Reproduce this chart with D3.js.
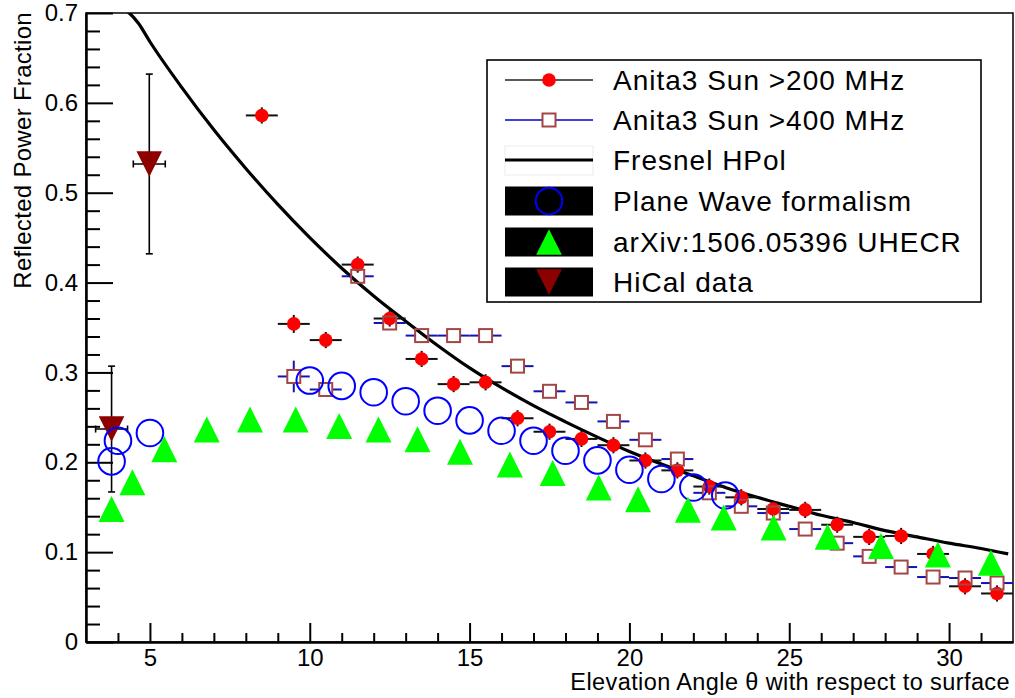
<!DOCTYPE html>
<html><head><meta charset="utf-8">
<script src="https://cdn.jsdelivr.net/npm/d3@7/dist/d3.min.js"></script>
<style>
body{margin:0;background:#fff}
text{font-family:"Liberation Sans",Arial,Helvetica,sans-serif}
</style>
</head><body>
<svg id="chart" width="1015" height="698"></svg>
<script>
// ---------- data ----------
const anita200X = [8.5, 9.5, 10.5, 11.5, 12.5, 13.5, 14.5, 15.5, 16.5, 17.5, 18.5, 19.5, 20.5, 21.5, 22.5, 23.5, 24.5, 25.5, 26.5, 27.5, 28.5, 29.5, 30.5, 31.5];
const anita200Y = [0.586, 0.354, 0.336, 0.420, 0.360, 0.315, 0.287, 0.289, 0.249, 0.234, 0.226, 0.219, 0.202, 0.191, 0.173, 0.161, 0.148, 0.147, 0.1305, 0.117, 0.118, 0.098, 0.062, 0.054];
const anita200XErr = [0.5, 0.5, 0.5, 0.5, 0.5, 0.5, 0.5, 0.5, 0.5, 0.5, 0.5, 0.5, 0.5, 0.5, 0.5, 0.5, 0.5, 0.5, 0.5, 0.5, 0.5, 0.5, 0.5, 0.5];
const anita200YErr = [0.009, 0.010, 0.009, 0.009, 0.009, 0.009, 0.009, 0.009, 0.009, 0.009, 0.009, 0.009, 0.009, 0.009, 0.009, 0.009, 0.009, 0.009, 0.009, 0.009, 0.009, 0.009, 0.009, 0.009];

const anita400X = [9.5, 10.5, 11.5, 12.5, 13.5, 14.5, 15.5, 16.5, 17.5, 18.5, 19.5, 20.5, 21.5, 22.5, 23.5, 24.5, 25.5, 26.5, 27.5, 28.5, 29.5, 30.5, 31.5];
const anita400Y = [0.2955, 0.281, 0.407, 0.355, 0.341, 0.341, 0.341, 0.307, 0.279, 0.2666, 0.2455, 0.225, 0.2036, 0.166, 0.151, 0.1435, 0.1257, 0.110, 0.0953, 0.0834, 0.0723, 0.0712, 0.0656];
const anita400XErr = [0.5, 0.5, 0.5, 0.5, 0.5, 0.5, 0.5, 0.5, 0.5, 0.5, 0.5, 0.5, 0.5, 0.5, 0.5, 0.5, 0.5, 0.5, 0.5, 0.5, 0.5, 0.5, 0.5];
const anita400YErr = [0.0176, 0.006, 0.006, 0.006, 0.006, 0.006, 0.006, 0.006, 0.006, 0.006, 0.006, 0.006, 0.006, 0.006, 0.006, 0.006, 0.006, 0.006, 0.006, 0.006, 0.006, 0.006, 0.006];

const fresnelX = [3.9, 4.64, 5, 6, 7, 8, 9, 10, 11, 12, 13, 14, 15, 16, 17, 18, 19, 20, 21, 22, 23, 24, 25, 26, 27, 28, 29, 30, 31, 31.85];
const fresnelY = [0.7115, 0.6886, 0.668, 0.617, 0.570, 0.527, 0.487, 0.450, 0.416, 0.385, 0.357, 0.330, 0.305, 0.283, 0.263, 0.245, 0.228, 0.212, 0.198, 0.185, 0.172, 0.161, 0.151, 0.141, 0.133, 0.124, 0.117, 0.110, 0.104, 0.098];

const planeWaveX = [3.8, 4.0, 5.0, 10, 11, 12, 13, 14, 15, 16, 17, 18, 19, 20, 21, 22, 23];
const planeWaveY = [0.201, 0.224, 0.2326, 0.291, 0.285, 0.278, 0.268, 0.2574, 0.2466, 0.2351, 0.224, 0.2129, 0.2021, 0.1917, 0.1814, 0.172, 0.1631];

const uhecrX = [3.8, 4.45, 5.45, 6.78, 8.13, 9.56, 10.92, 12.15, 13.37, 14.7, 16.26, 17.6, 19.04, 20.27, 21.83, 22.95, 24.51, 26.2, 27.87, 29.65, 31.31];
const uhecrY = [0.148, 0.1778, 0.2145, 0.2366, 0.2477, 0.2477, 0.2403, 0.2366, 0.2255, 0.2118, 0.1976, 0.188, 0.1719, 0.1589, 0.1472, 0.1385, 0.1274, 0.1172, 0.1068, 0.0975, 0.0882];

const hicalX = [3.8, 4.98];
const hicalY = [0.237, 0.532];
const hicalXErr = [0.5, 0.5];
const hicalYErr = [0.070, 0.100];

const xTicksMajor = [5, 10, 15, 20, 25, 30];
const xTicksMinor = [4, 6, 7, 8, 9, 11, 12, 13, 14, 16, 17, 18, 19, 21, 22, 23, 24, 26, 27, 28, 29, 31];
const yTicksMajor = [0, 0.1, 0.2, 0.3, 0.4, 0.5, 0.6, 0.7];
const yTickLabels = ["0", "0.1", "0.2", "0.3", "0.4", "0.5", "0.6", "0.7"];
const yTicksMinor = [0.02, 0.04, 0.06, 0.08, 0.12, 0.14, 0.16, 0.18, 0.22, 0.24, 0.26, 0.28, 0.32, 0.34, 0.36, 0.38, 0.42, 0.44, 0.46, 0.48, 0.52, 0.54, 0.56, 0.58, 0.62, 0.64, 0.66, 0.68];

const legendLabels = ["Anita3 Sun >200 MHz", "Anita3 Sun >400 MHz", "Fresnel HPol", "Plane Wave formalism", "arXiv:1506.05396 UHECR", "HiCal data"];
const xTitle = "Elevation Angle \u03B8 with respect to surface";
const yTitle = "Reflected Power Fraction";

// ---------- layout ----------
const L = 86, R = 1013, T = 13, B = 642;
const x = d3.scaleLinear().domain([3, 32]).range([L, R]);
const y = d3.scaleLinear().domain([0, 0.7]).range([B, T]);

const svg = d3.select("#chart");
svg.append("rect").attr("width", 1015).attr("height", 698).attr("fill", "#fff");

svg.append("defs").append("clipPath").attr("id", "plotclip")
  .append("rect").attr("x", L).attr("y", T).attr("width", R - L).attr("height", B - T);

// frame
svg.append("rect").attr("x", L).attr("y", T).attr("width", R - L).attr("height", B - T)
  .attr("fill", "none").attr("stroke", "#000").attr("stroke-width", 1.5);

// axes
function styleAxis(g) {
  g.attr("font-family", null).attr("font-size", null);
  g.selectAll("path.domain").attr("stroke", "#000").attr("stroke-width", 2);
  g.selectAll(".tick line").attr("stroke", "#000").attr("stroke-width", 2);
  g.selectAll("text").attr("font-family", "'Liberation Sans',Arial,sans-serif").attr("font-size", 24).attr("fill", "#000");
}
const xAxis = svg.append("g").attr("transform", `translate(0,${B})`)
  .call(d3.axisBottom(x).tickValues(xTicksMajor).tickSizeInner(-19).tickSizeOuter(0).tickPadding(7).tickFormat(d3.format("d")));
styleAxis(xAxis);
const xMinor = svg.append("g").attr("transform", `translate(0,${B})`)
  .call(d3.axisBottom(x).tickValues(xTicksMinor).tickSizeInner(-9).tickSizeOuter(0).tickFormat(""));
styleAxis(xMinor);

const yAxis = svg.append("g").attr("transform", `translate(${L},0)`)
  .call(d3.axisLeft(y).tickValues(yTicksMajor).tickSizeInner(-27).tickSizeOuter(0).tickPadding(8)
    .tickFormat((d, i) => yTickLabels[i]));
styleAxis(yAxis);
const yMinor = svg.append("g").attr("transform", `translate(${L},0)`)
  .call(d3.axisLeft(y).tickValues(yTicksMinor).tickSizeInner(-14).tickSizeOuter(0).tickFormat(""));
styleAxis(yMinor);

// titles
svg.append("text").attr("x", 1010).attr("y", 690).attr("text-anchor", "end")
  .attr("font-size", 23.5).attr("letter-spacing", 0.4).text(xTitle);
svg.append("text").attr("transform", "translate(31,12) rotate(-90)").attr("text-anchor", "end")
  .attr("font-size", 24).attr("letter-spacing", 0.3).text(yTitle);

const plot = svg.append("g").attr("clip-path", "url(#plotclip)");

// Fresnel curve
const fresnel = fresnelX.map((d, i) => [d, fresnelY[i]]);
plot.append("path").datum(fresnel)
  .attr("d", d3.line().x(d => x(d[0])).y(d => y(d[1])).curve(d3.curveMonotoneX))
  .attr("fill", "none").attr("stroke", "#000").attr("stroke-width", 3.2);

// error-bar helper: draws bars but leaves a gap of half-size `gap` around the marker
function errBars(g, data, color, width, gap) {
  data.forEach(d => {
    const cx = x(d.x), cy = y(d.y);
    const xl = x(d.x - d.ex), xr = x(d.x + d.ex), yt = y(d.y + d.ey), yb = y(d.y - d.ey);
    const segs = [];
    if (cx - gap > xl) segs.push([xl, cy, cx - gap, cy]);
    if (xr > cx + gap) segs.push([cx + gap, cy, xr, cy]);
    if (cy - gap > yt) segs.push([cx, yt, cx, cy - gap]);
    if (yb > cy + gap) segs.push([cx, cy + gap, cx, yb]);
    segs.forEach(s => g.append("line").attr("x1", s[0]).attr("y1", s[1]).attr("x2", s[2]).attr("y2", s[3])
      .attr("stroke", color).attr("stroke-width", width));
  });
}

const a200 = anita200X.map((d, i) => ({x: d, y: anita200Y[i], ex: anita200XErr[i], ey: anita200YErr[i]}));
const a400 = anita400X.map((d, i) => ({x: d, y: anita400Y[i], ex: anita400XErr[i], ey: anita400YErr[i]}));

const g200 = plot.append("g");
errBars(g200, a200, "#111", 2, 0);
const g400 = plot.append("g");
errBars(g400, a400, "#1414b4", 2, 6.5);

g200.selectAll("circle").data(a200).join("circle")
  .attr("cx", d => x(d.x)).attr("cy", d => y(d.y)).attr("r", 6.8).attr("fill", "#ff0000");

g400.selectAll("rect").data(a400).join("rect")
  .attr("x", d => x(d.x) - 6.5).attr("y", d => y(d.y) - 6.5).attr("width", 13).attr("height", 13)
  .attr("fill", "none").attr("stroke", "#a34646").attr("stroke-width", 2);

// HiCal
const hical = hicalX.map((d, i) => ({x: d, y: hicalY[i], ex: hicalXErr[i], ey: hicalYErr[i]}));
const gh = plot.append("g");
const cap = 3.5;
hical.forEach(d => {
  const cx = x(d.x), cy = y(d.y), x1 = x(d.x - d.ex), x2 = x(d.x + d.ex), y1 = y(d.y + d.ey), y2 = y(d.y - d.ey);
  const segs = [[x1, cy, x2, cy], [cx, y1, cx, y2], [x1, cy - cap, x1, cy + cap], [x2, cy - cap, x2, cy + cap],
                [cx - cap, y1, cx + cap, y1], [cx - cap, y2, cx + cap, y2]];
  segs.forEach(s => gh.append("line").attr("x1", s[0]).attr("y1", s[1]).attr("x2", s[2]).attr("y2", s[3])
    .attr("stroke", "#000").attr("stroke-width", 1.6));
});
const downTri = (cx, cy, h) => `M${cx - h},${cy - h}L${cx + h},${cy - h}L${cx},${cy + h}Z`;
const upTri = (cx, cy, h) => `M${cx - h},${cy + h}L${cx + h},${cy + h}L${cx},${cy - h}Z`;
gh.selectAll("path").data(hical).join("path")
  .attr("d", d => downTri(x(d.x), y(d.y), 12.8)).attr("fill", "#8c0000");

// Plane wave
const pw = planeWaveX.map((d, i) => ({x: d, y: planeWaveY[i]}));
plot.append("g").selectAll("circle").data(pw).join("circle")
  .attr("cx", d => x(d.x)).attr("cy", d => y(d.y)).attr("r", 13.3)
  .attr("fill", "none").attr("stroke", "#0000ff").attr("stroke-width", 2);

// UHECR
const uh = uhecrX.map((d, i) => ({x: d, y: uhecrY[i]}));
plot.append("g").selectAll("path").data(uh).join("path")
  .attr("d", d => upTri(x(d.x), y(d.y), 13)).attr("fill", "#00ff00");

// ---------- legend ----------
const lg = svg.append("g");
lg.append("rect").attr("x", 487).attr("y", 60).attr("width", 494).attr("height", 242)
  .attr("fill", "#fff").attr("stroke", "#000").attr("stroke-width", 1.6);
const rowY = [80, 120, 160, 201, 242, 282];
const sx1 = 505, sx2 = 593, sxc = 549;
// 1
lg.append("line").attr("x1", sx1).attr("x2", sx2).attr("y1", rowY[0]).attr("y2", rowY[0]).attr("stroke", "#222").attr("stroke-width", 1.6);
lg.append("circle").attr("cx", sxc).attr("cy", rowY[0]).attr("r", 6.8).attr("fill", "#ff0000");
// 2
lg.append("line").attr("x1", sx1).attr("x2", sx2).attr("y1", rowY[1]).attr("y2", rowY[1]).attr("stroke", "#0000cc").attr("stroke-width", 1.6);
lg.append("rect").attr("x", sxc - 6.5).attr("y", rowY[1] - 6.5).attr("width", 13).attr("height", 13)
  .attr("fill", "#fff").attr("stroke", "#a34646").attr("stroke-width", 2);
// 3
lg.append("rect").attr("x", sx1).attr("y", rowY[2] - 14).attr("width", sx2 - sx1).attr("height", 29)
  .attr("fill", "#fff").attr("stroke", "#eeeeee").attr("stroke-width", 1.2);
lg.append("line").attr("x1", sx1).attr("x2", sx2).attr("y1", rowY[2]).attr("y2", rowY[2]).attr("stroke", "#000").attr("stroke-width", 3.2);
// 4-6 black boxes
[3, 4, 5].forEach(i => lg.append("rect").attr("x", sx1).attr("y", rowY[i] - 14.5).attr("width", sx2 - sx1).attr("height", 29).attr("fill", "#000"));
lg.append("circle").attr("cx", sxc).attr("cy", rowY[3]).attr("r", 13.3).attr("fill", "none").attr("stroke", "#0000ff").attr("stroke-width", 2);
lg.append("path").attr("d", upTri(sxc, rowY[4], 12.8)).attr("fill", "#00ff00");
lg.append("path").attr("d", downTri(sxc, rowY[5], 12.8)).attr("fill", "#8c0000");
legendLabels.forEach((t, i) => lg.append("text").attr("x", 613).attr("y", rowY[i] + 10)
  .attr("font-size", 28).attr("letter-spacing", 1.0).attr("fill", "#000").text(t));
</script>
</body></html>
